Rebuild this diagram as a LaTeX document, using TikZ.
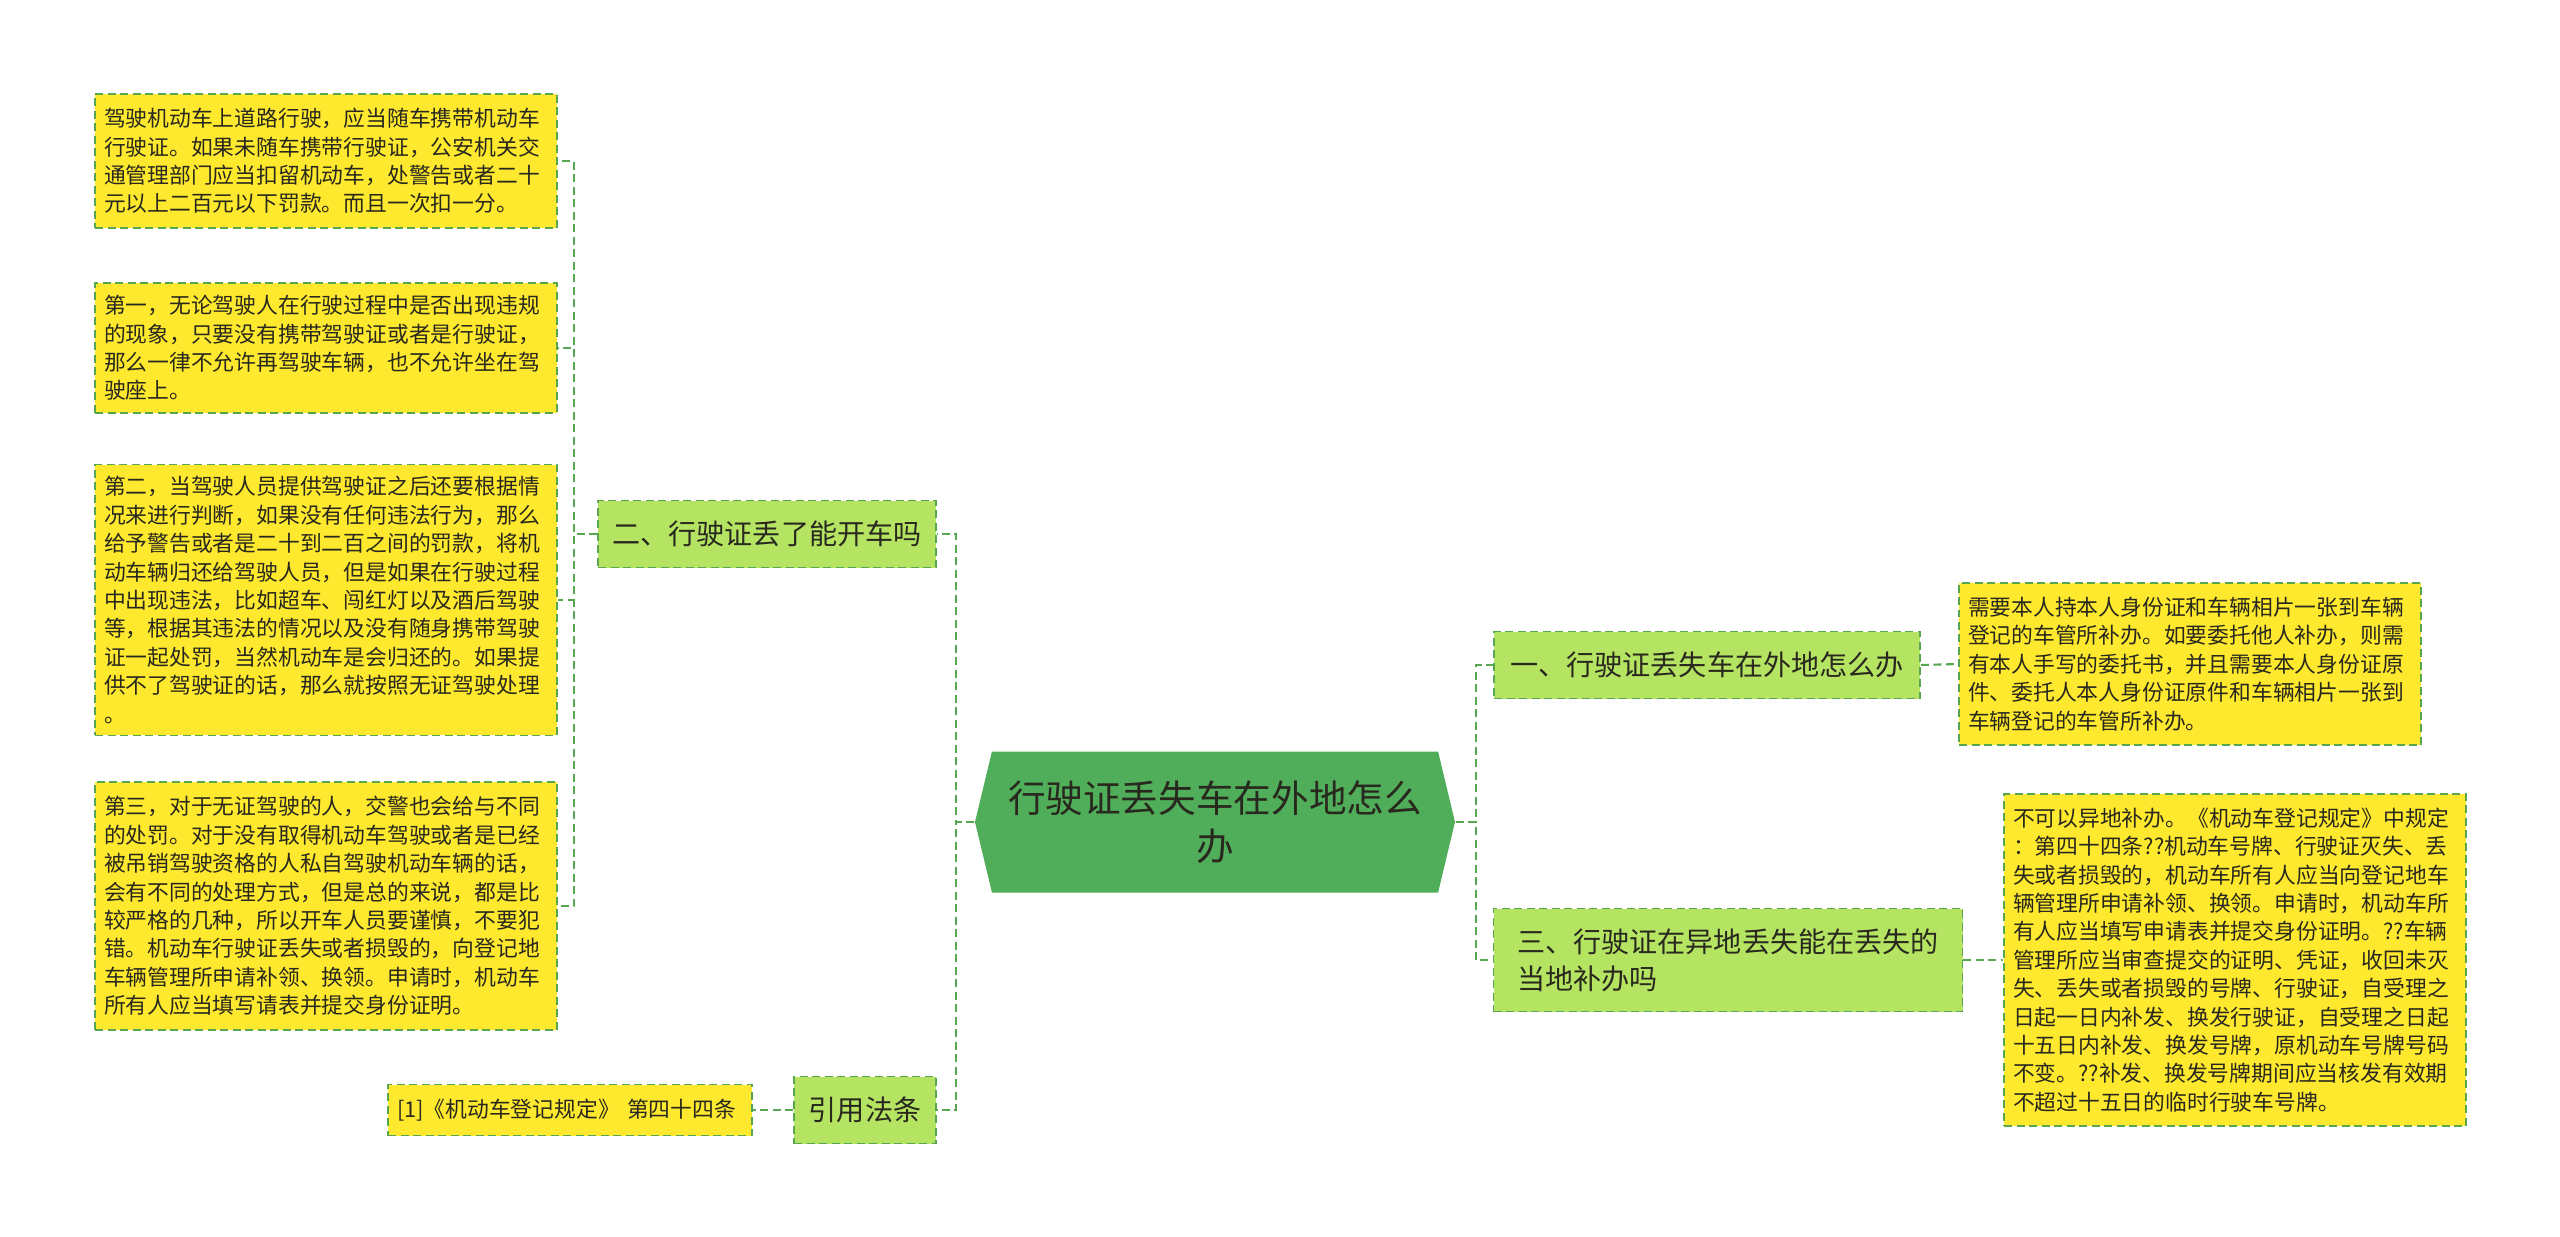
\documentclass[tikz,border=0pt]{standalone}
\usepackage{fontspec}
\usepackage{tikz}
\usetikzlibrary{shapes.symbols,positioning}
\newfontfamily\cjk{Noto Sans CJK SC}
\definecolor{LeafYellow}{RGB}{255,233,46}
\definecolor{TopicGreen}{RGB}{181,228,98}
\definecolor{RootGreen}{RGB}{80,174,91}
\definecolor{LineGreen}{RGB}{88,166,80}
\definecolor{InkDark}{RGB}{40,40,30}

\begin{document}
\begin{tikzpicture}[
  x=0.1mm, y=-0.1mm,
  leaf/.style={
    rectangle, draw=LineGreen, fill=LeafYellow, dash pattern=on 0.8mm off 0.45mm,
    line width=0.5pt, text width=44.4mm, inner xsep=0.9mm, inner ysep=1.2mm,
    align=left, text=InkDark, font=\cjk\fontsize{6.2}{8.08}\selectfont
  },
  topic/.style={
    rectangle, draw=LineGreen, fill=TopicGreen, dash pattern=on 0.8mm off 0.45mm,
    line width=0.5pt, inner xsep=1.4mm, align=left, text=InkDark,
    font=\cjk\fontsize{8}{10.5}\selectfont
  },
  root/.style={
    signal, signal to=west and east, signal pointer angle=153,
    fill=RootGreen, draw=none, minimum width=48mm, minimum height=14.1mm,
    align=center, text=InkDark, font=\cjk\fontsize{10.7}{13.6}\selectfont
  },
  link/.style={draw=LineGreen, line width=0.6pt, dash pattern=on 0.8mm off 0.45mm}
]
\useasboundingbox (0,0) rectangle (2560,1237);

% ---- centre ----
\node[root] (root) at (1215,822) {行驶证丢失车在外地怎么\\办};

% ---- branches ----
\node[topic, minimum width=33.8mm, minimum height=6.7mm] (law)  at (767,534)  {二、行驶证丢了能开车吗};
\node[topic, minimum width=14.2mm, minimum height=6.7mm] (cite) at (865,1110) {引用法条};
\node[topic, minimum width=42.6mm, minimum height=6.7mm] (away) at (1707,665) {一、行驶证丢失车在外地怎么办};
\node[topic, minimum width=46.9mm, minimum height=10.3mm] (local) at (1728,960) {三、行驶证在异地丢失能在丢失的\\当地补办吗};

% ---- leaves, left ----
\node[leaf, minimum height=13.4mm] (fine) at (326,161) {驾驶机动车上道路行驶，应当随车携带机动车\\行驶证。如果未随车携带行驶证，公安机关交\\通管理部门应当扣留机动车，处警告或者二十\\元以上二百元以下罚款。而且一次扣一分。};
\node[leaf, minimum height=12.7mm] (first) at (326,348) {第一，无论驾驶人在行驶过程中是否出现违规\\的现象，只要没有携带驾驶证或者是行驶证，\\那么一律不允许再驾驶车辆，也不允许坐在驾\\驶座上。};
\node[leaf, minimum height=26.5mm] (second) at (326,600) {第二，当驾驶人员提供驾驶证之后还要根据情\\况来进行判断，如果没有任何违法行为，那么\\给予警告或者是二十到二百之间的罚款，将机\\动车辆归还给驾驶人员，但是如果在行驶过程\\中出现违法，比如超车、闯红灯以及酒后驾驶\\等，根据其违法的情况以及没有随身携带驾驶\\证一起处罚，当然机动车是会归还的。如果提\\供不了驾驶证的话，那么就按照无证驾驶处理\\。};
\node[leaf, minimum height=24.8mm] (third) at (326,906) {第三，对于无证驾驶的人，交警也会给与不同\\的处罚。对于没有取得机动车驾驶或者是已经\\被吊销驾驶资格的人私自驾驶机动车辆的话，\\会有不同的处理方式，但是总的来说，都是比\\较严格的几种，所以开车人员要谨慎，不要犯\\错。机动车行驶证丢失或者损毁的，向登记地\\车辆管理所申请补领、换领。申请时，机动车\\所有人应当填写请表并提交身份证明。};
\node[leaf, text width=34.6mm, minimum height=5.1mm] (ref) at (570,1110) {[1]《机动车登记规定》 第四十四条};

% ---- leaves, right ----
\node[leaf, minimum height=16.2mm] (proxy) at (2190,664) {需要本人持本人身份证和车辆相片一张到车辆\\登记的车管所补办。如要委托他人补办，则需\\有本人手写的委托书，并且需要本人身份证原\\件、委托人本人身份证原件和车辆相片一张到\\车辆登记的车管所补办。};
\node[leaf, minimum height=33.2mm] (rule) at (2235,960) {不可以异地补办。《机动车登记规定》中规定\\：第四十四条??机动车号牌、行驶证灭失、丢\\失或者损毁的，机动车所有人应当向登记地车\\辆管理所申请补领、换领。申请时，机动车所\\有人应当填写申请表并提交身份证明。??车辆\\管理所应当审查提交的证明、凭证，收回未灭\\失、丢失或者损毁的号牌、行驶证，自受理之\\日起一日内补发、换发行驶证，自受理之日起\\十五日内补发、换发号牌，原机动车号牌号码\\不变。??补发、换发号牌期间应当核发有效期\\不超过十五日的临时行驶车号牌。};

% ---- links ----
\draw[link] (root.west) -- ++(-18,0) |- (law.east);
\draw[link] (root.west) -- ++(-18,0) |- (cite.east);
\draw[link] (root.east) -- ++(20,0) |- (away.west);
\draw[link] (root.east) -- ++(20,0) |- (local.west);

\foreach \leafname in {fine,first,second,third}
  \draw[link] (law.west) -- ++(-23,0) |- (\leafname.east);
\draw[link] (cite.west) -- (ref.east);
\draw[link] (away.east) -- (proxy.west);
\draw[link] (local.east) -- (rule.west);

\end{tikzpicture}
\end{document}
